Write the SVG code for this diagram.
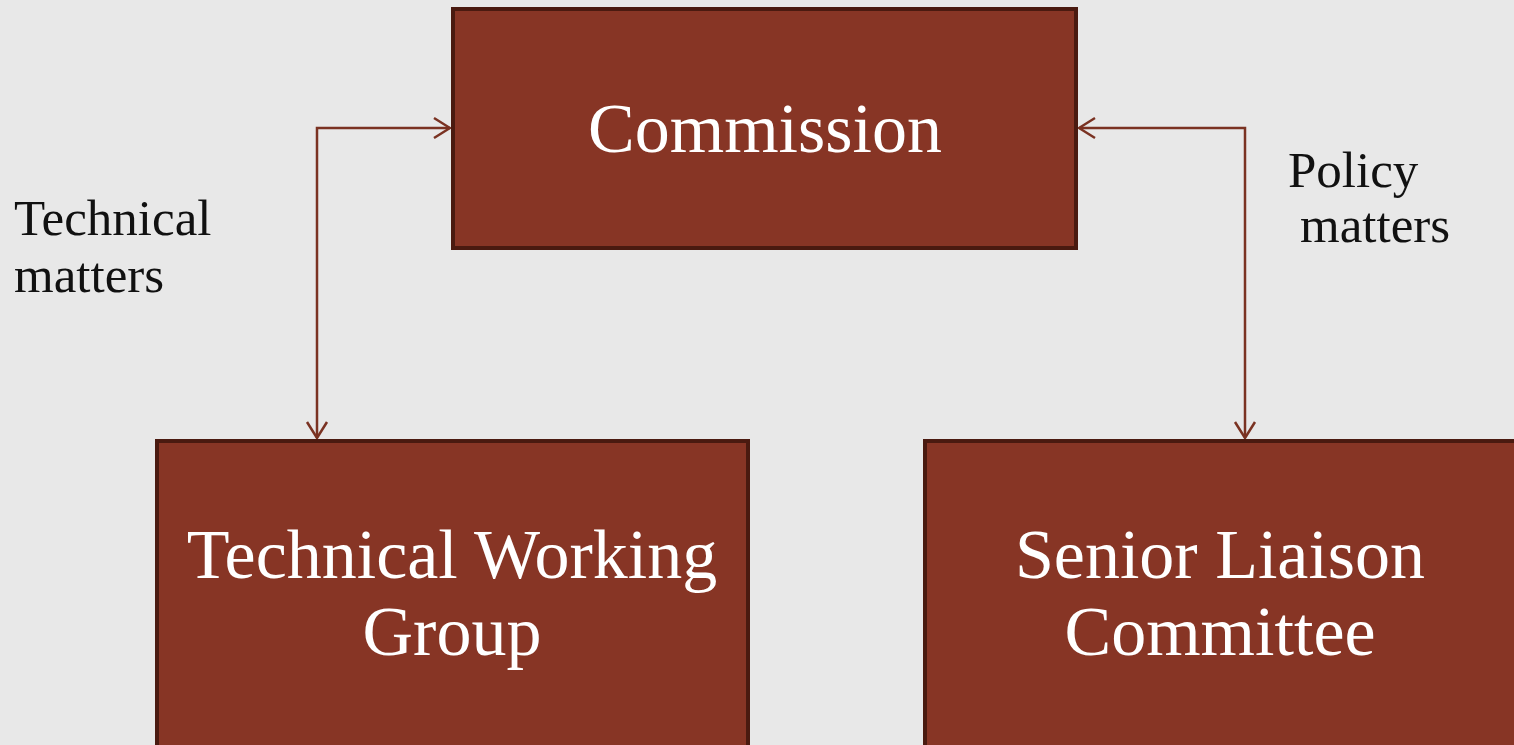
<svg xmlns="http://www.w3.org/2000/svg" width="1514" height="745" viewBox="0 0 1514 745">
<defs>
<style>
.box{fill:#873525;stroke:#4a1a10;stroke-width:4}
.bt{font-family:"Liberation Serif",serif;font-size:70px;fill:#ffffff;text-anchor:middle}
.lb{font-family:"Liberation Serif",serif;font-size:51px;fill:#111111}
.ln{fill:none;stroke:#7a3222;stroke-width:2.5}
</style>
<marker id="ah" viewBox="0 0 20 24" refX="19" refY="12" markerWidth="20" markerHeight="24" markerUnits="userSpaceOnUse" orient="auto-start-reverse">
<path d="M3,2 L19,12 L3,22" fill="none" stroke="#7a3222" stroke-width="2.5"/>
</marker>
</defs>
<rect width="1514" height="745" fill="#e8e8e8"/>
<g id="connectors">
<path class="ln" d="M450,128 H317 V438" marker-start="url(#ah)" marker-end="url(#ah)"/>
<path class="ln" d="M1079,128 H1245 V438" marker-start="url(#ah)" marker-end="url(#ah)"/>
</g>
<g id="commission">
<rect class="box" x="453" y="9" width="623" height="239"/>
<text class="bt" x="765" y="152">Commission</text>
</g>
<g id="twg">
<rect class="box" x="157" y="441" width="591" height="310"/>
<text class="bt" x="452" y="578">Technical Working</text>
<text class="bt" x="452" y="655">Group</text>
</g>
<g id="slc">
<rect class="box" x="925" y="441" width="600" height="310"/>
<text class="bt" x="1220" y="578">Senior Liaison</text>
<text class="bt" x="1220" y="655">Committee</text>
</g>
<g id="labels">
<text class="lb" x="14" y="235">Technical</text>
<text class="lb" x="14" y="292">matters</text>
<text class="lb" x="1288" y="187">Policy</text>
<text class="lb" x="1300" y="242">matters</text>
</g>
</svg>
